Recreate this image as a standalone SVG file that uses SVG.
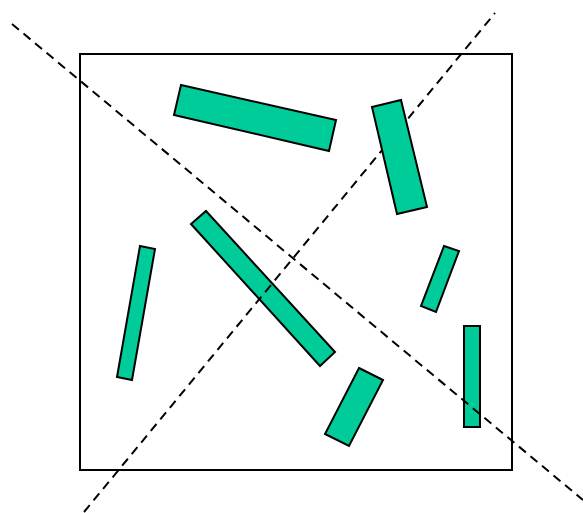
<svg xmlns="http://www.w3.org/2000/svg" width="583" height="513" viewBox="0 0 583 513">
<style>
.bar{fill:#00CC99;stroke:#000;stroke-width:2;stroke-linejoin:miter}
.frame{fill:none;stroke:#000;stroke-width:2}
.cut{fill:none;stroke:#000;stroke-width:2;stroke-dasharray:9,6}
</style>
<rect width="583" height="513" fill="#fff"/>
<g id="frame"><rect class="frame" x="80" y="54" width="432" height="416"/></g>
<g id="bar1"><polygon class="bar" points="181,85 336,120 329,151 174,115"/></g>
<g id="bar3"><polygon class="bar" points="206,211 335,352 320,366 191,224"/></g>
<g id="bar4"><polygon class="bar" points="140,246 155,249 132,380 117,377"/></g>
<g id="bar5"><polygon class="bar" points="444,246 459,251 436,312 421,306"/></g>
<g id="bar6"><polygon class="bar" points="359,368 383,380 349,446 325,434"/></g>
<g id="bar7"><rect class="bar" x="464" y="326" width="16" height="101"/></g>
<g id="connectors">
<line class="cut" x1="12" y1="24" x2="583" y2="500"/>
<line class="cut" x1="84" y1="512" x2="495" y2="13"/>
</g>
<g id="bar2"><polygon class="bar" points="372,107 401,100 427,207 397,214"/></g>
</svg>
